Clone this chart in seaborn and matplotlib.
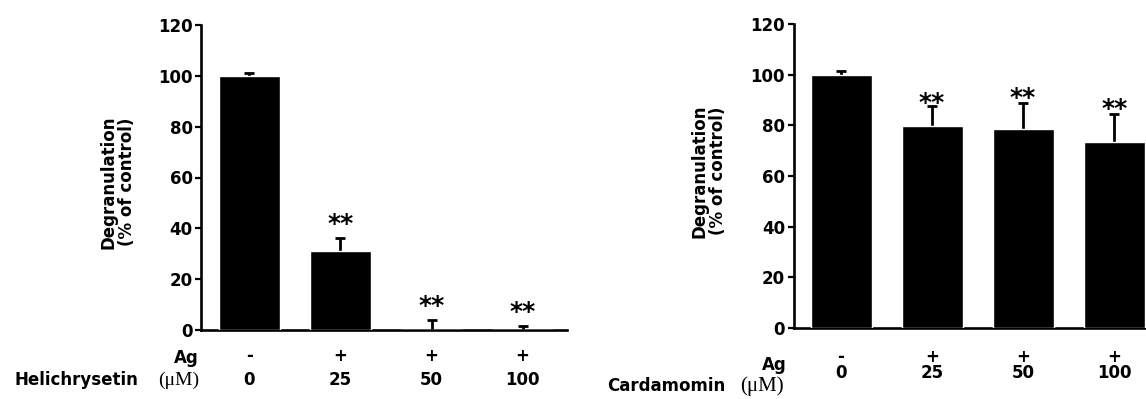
import pandas as pd
import matplotlib.pyplot as plt
import matplotlib.transforms as mtransforms
import seaborn as sns

# values
ag_labels = ['-', '+', '+', '+']
doses = ['0', '25', '50', '100']

heli_mean = [100, 31.2, 0, 0]
heli_err = [1.3, 5.0, 3.9, 1.6]
heli_stars = ['', '**', '**', '**']
heli_star_y = [0, 39, 6.8, 4.2]

card_mean = [100, 79.6, 78.6, 73.3]
card_err = [1.5, 7.9, 10.3, 11.2]
card_stars = ['', '**', '**', '**']
card_star_y = [0, 86, 88, 83.5]

sns.set_style('ticks', rc={'text.color': 'black', 'axes.labelcolor': 'black',
                           'xtick.color': 'black', 'ytick.color': 'black',
                           'axes.edgecolor': 'black'})
plt.rcParams['font.family'] = ['DejaVu Sans']
plt.rcParams['font.weight'] = 'bold'

W, H = 1146, 399
fig = plt.figure(figsize=(W / 100, H / 100), dpi=100)
ax1 = fig.add_axes([201 / W, 1 - 330 / H, 366 / W, 305 / H])
ax2 = fig.add_axes([793.5 / W, 1 - 328 / H, 352.5 / W, 304 / H])


def draw_panel(ax, means, errs, stars, star_y, drug, xlim, lay):
    df = pd.DataFrame({'dose': doses, 'value': means})
    sns.barplot(data=df, x='dose', y='value', order=doses, color='black',
                saturation=1, width=0.67, errorbar=None, ax=ax, zorder=3)
    pos = range(len(means))
    _, caps, _ = ax.errorbar(pos, means, yerr=[[0] * len(errs), errs],
                             fmt='none', ecolor='black', elinewidth=2,
                             capsize=3.6, capthick=2, zorder=2)
    caps[0].set_visible(False)  # only the upper half of the error bar
    for x, y, s in zip(pos, star_y, stars):
        if s:
            ax.text(x, y, s, ha='center', va='baseline', fontsize=18,
                    fontweight='bold')

    ax.set_ylim(0, 120)
    ax.set_xlim(*xlim)
    ax.set_yticks([0, 20, 40, 60, 80, 100, 120])
    ax.tick_params(axis='y', labelsize=12, width=1.6, length=4.5, pad=1.5)
    ax.tick_params(axis='x', bottom=False, labelbottom=False)
    for side in ['top', 'right']:
        ax.spines[side].set_visible(False)
    for side in ['left', 'bottom']:
        ax.spines[side].set_linewidth(1.9)
    ax.set_xlabel('')
    ax.set_ylabel('')
    ax.text(lay['ylab_x'], lay['ylab_y'], 'Degranulation\n(% of control)',
            transform=ax.transAxes, rotation=90, ha='center', va='center',
            fontsize=12, fontweight='bold', linespacing=1.05)

    # rows of condition labels under the bars
    tr = mtransforms.blended_transform_factory(ax.transData, fig.transFigure)
    for x, a, d in zip(pos, ag_labels, doses):
        ax.text(x, 1 - lay['sign'] / H, a, transform=tr, ha='center',
                va='center', fontsize=12, fontweight='bold')
        ax.text(x, 1 - lay['dose'] / H, d, transform=tr, ha='center',
                va='center', fontsize=12, fontweight='bold')
    fig.text(lay['right'] / W, 1 - lay['ag'] / H, 'Ag', ha='right',
             va='center', fontsize=12, fontweight='bold')
    fig.text(lay['mu_right'] / W, 1 - lay['drug'] / H, '(\u03bcM)',
             ha='right', va='center', fontsize=lay['mu_size'],
             fontweight='normal', family='Liberation Serif')
    fig.text(lay['drug_x'] / W, 1 - lay['drug'] / H, drug, ha='right',
             va='center', fontsize=lay['drug_size'], fontweight='bold')


draw_panel(ax1, heli_mean, heli_err, heli_stars, heli_star_y, 'Helichrysetin',
           (-0.532, 3.488),
           {'sign': 356, 'dose': 380, 'ag': 358, 'drug': 380, 'right': 199,
            'mu_right': 199, 'mu_size': 14, 'drug_x': 138, 'drug_size': 12,
            'ylab_x': -0.227, 'ylab_y': 0.485})
draw_panel(ax2, card_mean, card_err, card_stars, card_star_y, 'Cardamomin',
           (-0.522, 3.35),
           {'sign': 357, 'dose': 373, 'ag': 364.5, 'drug': 386, 'right': 787,
            'mu_right': 784, 'mu_size': 15, 'drug_x': 725, 'drug_size': 12,
            'ylab_x': -0.24, 'ylab_y': 0.516})

fig.savefig('out.png', dpi=100)
